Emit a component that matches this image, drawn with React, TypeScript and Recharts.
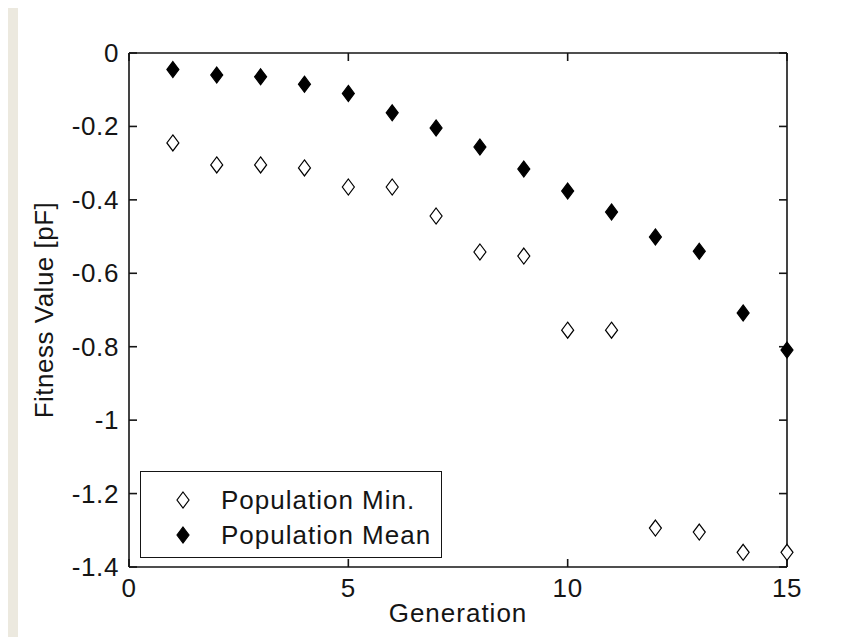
import React from 'react';
import { ScatterChart, Scatter, XAxis, YAxis, Legend, ReferenceLine } from 'recharts';

const generations = [1, 2, 3, 4, 5, 6, 7, 8, 9, 10, 11, 12, 13, 14, 15];
const popMin = [-0.245, -0.305, -0.305, -0.313, -0.365, -0.365, -0.444, -0.542, -0.553, -0.755, -0.755, -1.294, -1.305, -1.36, -1.36];
const popMean = [-0.045, -0.06, -0.065, -0.085, -0.11, -0.163, -0.204, -0.256, -0.316, -0.376, -0.433, -0.501, -0.54, -0.708, -0.809];
const xTicks = [0, 5, 10, 15];
const yTicks = [0, -0.2, -0.4, -0.6, -0.8, -1, -1.2, -1.4];

const X_MIN = 0, X_MAX = 15, Y_MIN = -1.4, Y_MAX = 0;

const minData = generations.map((g, i) => ({ x: g, y: popMin[i] }));
const meanData = generations.map((g, i) => ({ x: g, y: popMean[i] }));

const FONT = '"Liberation Sans", Arial, sans-serif';
const FS = 26;
const INK = '#151515';
const LW = 1.6;

// plot size in px (for converting tick length to data units)
const PLOT_W = 658, PLOT_H = 514, TICK_PX = 8;
const TX = (TICK_PX * (X_MAX - X_MIN)) / PLOT_W;
const TY = (TICK_PX * (Y_MAX - Y_MIN)) / PLOT_H;

const Diamond = (props: any) => {
  const { cx, cy, filled } = props;
  if (cx == null || cy == null) return null;
  const w = 6, h = 8;
  return (
    <path
      d={`M${cx},${cy - h}L${cx + w},${cy}L${cx},${cy + h}L${cx - w},${cy}Z`}
      fill={filled ? '#000' : '#fff'}
      stroke="#000"
      strokeWidth={1.2}
    />
  );
};

const fmt = (v: number) => (Math.abs(v) < 1e-9 ? '0' : String(Math.round(v * 10) / 10));

const LeftTick = (p: any) => (
  <text x={p.x} y={p.y} textAnchor="end" dominantBaseline="central" fontFamily={FONT} fontSize={FS} fill={INK} letterSpacing={0.6}>
    {fmt(p.payload.value)}
  </text>
);
const BottomTick = (p: any) => (
  <text x={p.x} y={p.y + 11} textAnchor="middle" dominantBaseline="central" fontFamily={FONT} fontSize={FS} fill={INK} letterSpacing={0.6}>
    {fmt(p.payload.value)}
  </text>
);

const LegendBox = (props: any) => {
  const payload = [...(props.payload || [])].sort((a: any) => (String(a.value).includes('Min') ? -1 : 1));
  return (
    <div
      style={{
        width: 302,
        height: 87,
        border: `1.5px solid ${INK}`,
        background: '#fff',
        fontFamily: FONT,
        fontSize: FS,
        letterSpacing: 1,
        color: INK,
        paddingTop: 11,
        boxSizing: 'border-box',
      }}
    >
      {payload.map((entry: any, i: number) => (
        <div key={i} style={{ display: 'flex', alignItems: 'center', height: 35 }}>
          <svg width={80} height={35} style={{ display: 'block' }}>
            <Diamond cx={42} cy={17} filled={String(entry.value).includes('Mean')} />
          </svg>
          <span style={{ lineHeight: '35px' }}>{entry.value}</span>
        </div>
      ))}
    </div>
  );
};

const line = { stroke: INK, strokeWidth: LW, ifOverflow: 'visible' as const };

export default function App() {
  return (
    <div style={{ position: 'relative', width: 866, height: 637, margin: '-8px 0 0 -8px', background: '#ECE9DF', overflow: 'hidden' }}>
      <div style={{ position: 'absolute', left: 18, top: 4, right: 0, bottom: 0, background: '#fff' }} />
      <div style={{ position: 'absolute', left: 0, top: 0 }}>
        <ScatterChart width={866} height={637} margin={{ top: 53, right: 79, bottom: 0, left: 29 }}>
          <XAxis
            dataKey="x"
            type="number"
            domain={[X_MIN, X_MAX]}
            ticks={xTicks}
            height={70}
            tickSize={0}
            tickMargin={10}
            tickLine={false}
            axisLine={false}
            tick={BottomTick}
            interval={0}
            label={{ value: 'Generation', position: 'insideBottom', offset: 15, fontFamily: FONT, fontSize: FS, fill: INK, letterSpacing: 1 }}
          />
          <YAxis
            dataKey="y"
            type="number"
            domain={[Y_MIN, Y_MAX]}
            ticks={yTicks}
            width={100}
            tickSize={0}
            tickMargin={10}
            tickLine={false}
            axisLine={false}
            tick={LeftTick}
            interval={0}
            label={{ value: 'Fitness Value [pF]', angle: -90, position: 'insideLeft', offset: 15, dy: 0, fontFamily: FONT, fontSize: FS, fill: INK, letterSpacing: 0.5, style: { textAnchor: 'middle' } }}
          />
          <Legend
            layout="vertical"
            align="center"
            verticalAlign="middle"
            content={LegendBox}
            wrapperStyle={{ left: 140, top: 471, width: 302, height: 87 }}
          />
          {/* axes box */}
          <ReferenceLine segment={[{ x: X_MIN, y: Y_MAX }, { x: X_MAX, y: Y_MAX }]} {...line} />
          <ReferenceLine segment={[{ x: X_MIN, y: Y_MIN }, { x: X_MAX, y: Y_MIN }]} {...line} />
          <ReferenceLine segment={[{ x: X_MIN, y: Y_MIN }, { x: X_MIN, y: Y_MAX }]} {...line} />
          <ReferenceLine segment={[{ x: X_MAX, y: Y_MIN }, { x: X_MAX, y: Y_MAX }]} {...line} />
          {/* inward ticks */}
          {xTicks.map((t) => (
            <ReferenceLine key={`xb${t}`} segment={[{ x: t, y: Y_MIN }, { x: t, y: Y_MIN + TY }]} {...line} />
          ))}
          {xTicks.map((t) => (
            <ReferenceLine key={`xt${t}`} segment={[{ x: t, y: Y_MAX }, { x: t, y: Y_MAX - TY }]} {...line} />
          ))}
          {yTicks.map((t) => (
            <ReferenceLine key={`yl${t}`} segment={[{ x: X_MIN, y: t }, { x: X_MIN + TX, y: t }]} {...line} />
          ))}
          {yTicks.map((t) => (
            <ReferenceLine key={`yr${t}`} segment={[{ x: X_MAX, y: t }, { x: X_MAX - TX, y: t }]} {...line} />
          ))}
          <Scatter
            name="Population Min."
            data={minData}
            isAnimationActive={false}
            fill="#fff"
            stroke="#000"
            shape={(p: any) => <Diamond cx={p.cx} cy={p.cy} filled={false} />}
          />
          <Scatter
            name="Population Mean"
            data={meanData}
            isAnimationActive={false}
            fill="#000"
            shape={(p: any) => <Diamond cx={p.cx} cy={p.cy} filled={true} />}
          />
        </ScatterChart>
      </div>
    </div>
  );
}
